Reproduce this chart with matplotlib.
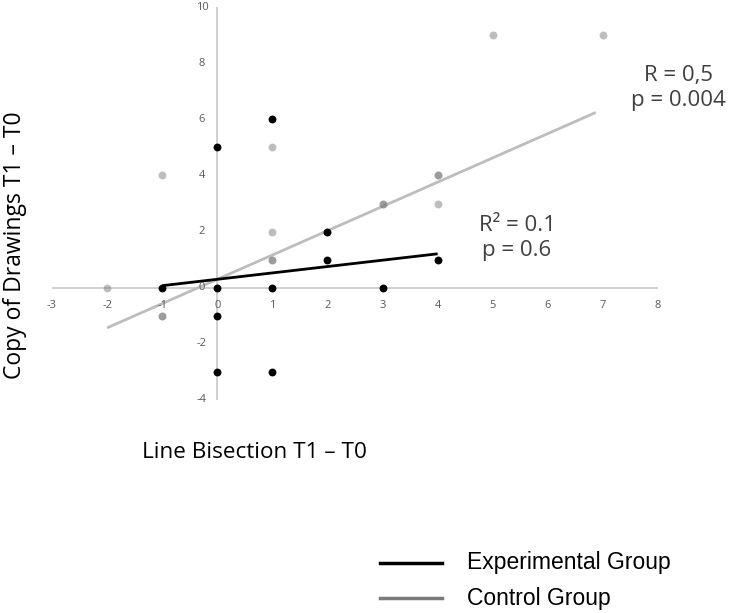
import matplotlib
matplotlib.use("Agg")
import matplotlib.pyplot as plt
import numpy as np

# Experimental group (black points)
exp_x = [1, 0, 2, 2, 4, -1, 0, 1, 3, 0, 0, 1]
exp_y = [6, 5, 2, 1, 1, 0, 0, 0, 0, -1, -3, -3]
# Control group (grey points; duplicated points appear darker)
ctl_x = [-2, -1, -1, -1, 1, 1, 1, 1, 2, 3, 3, 4, 4, 4, 5, 7]
ctl_y = [0, 4, -1, -1, 5, 2, 1, 1, 2, 3, 3, 4, 4, 3, 9, 9]

# Trend lines (slope, intercept, x-range)
exp_fit = (0.227, 0.30, -1.0, 4.0)
ctl_fit = (0.865, 0.30, -2.0, 6.87)

x_ticks = [-3, -2, -1, 0, 1, 2, 3, 4, 5, 6, 7, 8]
y_ticks = [-4, -2, 0, 2, 4, 6, 8, 10]

fig = plt.figure(figsize=(7.29, 6.13), dpi=100)
ax = fig.add_axes([52/729, (613-400)/613, 606/729, 393/613])
ax.set_xlim(-3, 8)
ax.set_ylim(-4, 10)
ax.axis("off")
ax.axhline(0, color="#c8c8c8", lw=1.2, zorder=1)
ax.axvline(0, color="#c8c8c8", lw=1.2, zorder=1)

tick_col = "#595959"
for t in x_ticks:
    ax.annotate(str(t), (t, 0), xytext=(0, -12.5), textcoords="offset points",
                ha="center", va="center", fontsize=8, color=tick_col,
                family="Open Sans")
for t in y_ticks:
    ax.annotate(str(t), (0, t), xytext=(-11, 0), textcoords="offset points",
                ha="center", va="center", fontsize=8, color=tick_col,
                family="Open Sans")

ax.scatter(ctl_x, ctl_y, s=32, color="#7d7d7d", alpha=0.5, lw=0, zorder=3)
ax.scatter(exp_x, exp_y, s=32, color="black", lw=0, zorder=4)

for fit, col in ((ctl_fit, "#bdbdbd"), (exp_fit, "black")):
    m, b, x0, x1 = fit
    xs = np.array([x0, x1])
    ax.plot(xs, m*xs + b, color=col, lw=2, zorder=2, solid_capstyle="butt")

txt_col = "#404040"
fig.text(678/729, 1 - 88/613, "R = 0,5\np = 0.004", ha="center", va="center",
         fontsize=16, color=txt_col, family="Open Sans", linespacing=1.3)
fig.text(517/729, 1 - 238/613, "R² = 0.1\np = 0.6", ha="center", va="center",
         fontsize=16, color=txt_col, family="Open Sans", linespacing=1.3)

fig.text(15/729, 1 - 245/613, "Copy of Drawings T1 – T0", rotation=90,
         ha="center", va="center", fontsize=16.5, color="black", family="Open Sans")
fig.text(254/729, 1 - 453/613, "Line Bisection T1 – T0",
         ha="center", va="center", fontsize=16.2, color="black", family="Open Sans")

# legend
for yy, col, lab in ((563, "black", "Experimental Group"), (598, "#7a7a7a", "Control Group")):
    fig.add_artist(plt.Line2D([380/729, 442/729], [1 - yy/613, 1 - yy/613],
                              color=col, lw=2.5, transform=fig.transFigure))
    fig.text(467/729, 1 - yy/613, lab, ha="left", va="center", fontsize=16.5,
             color="black", family="Liberation Sans")

fig.savefig("out.png", dpi=100)
